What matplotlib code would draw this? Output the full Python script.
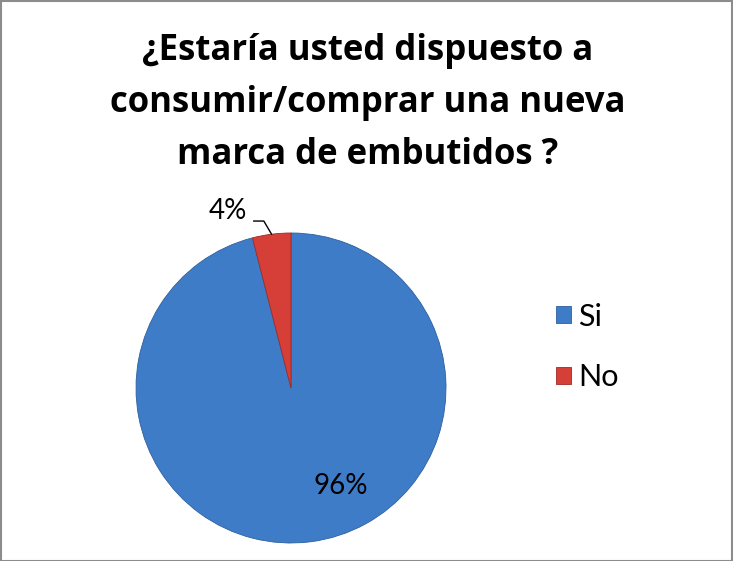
import numpy as np
import matplotlib.pyplot as plt
from matplotlib.patches import Rectangle

labels = ["Si", "No"]
values = [96, 4]
pct_text = ["96%", "4%"]
colors = ["#3f7cc8", "#d63f38"]
title = "¿Estaría usted dispuesto a\nconsumir/comprar una nueva\nmarca de embutidos ?"

plt.rcParams['font.family'] = ['Lato', 'DejaVu Sans']

fig = plt.figure(figsize=(7.33, 5.61), dpi=100)
fig.patch.set_facecolor("white")

# pie area: centre ~ (291, 388) px, radius ~155 px
W, H = 733, 561
cx, cy, r = 291, 388, 155
ax = fig.add_axes([(cx - r) / W, (H - cy - r) / H, 2 * r / W, 2 * r / H])
wedges, _ = ax.pie(values, colors=colors, startangle=90, counterclock=False,
                   wedgeprops=dict(edgecolor="#2d5f9e", linewidth=0.6))
wedges[1].set_edgecolor("#9e2a25")
ax.set_xlim(-1, 1)
ax.set_ylim(-1, 1)
ax.set_aspect("equal")
ax.axis("off")

# 96% label inside the big slice
ax.text(0.32, -0.63, pct_text[0], fontsize=20, ha="center", va="center", color="black")

# 4% label with leader line
w = wedges[1]
mid = np.deg2rad((w.theta1 + w.theta2) / 2)
ex, ey = np.cos(mid), np.sin(mid)
ax.plot([ex, ex - 0.05, ex - 0.115], [ey, ey + 0.085, ey + 0.085], color="black", lw=1, clip_on=False)
ax.text(ex - 0.16, ey + 0.15, pct_text[1], fontsize=20, ha="right", va="center", color="black")

fig.text(368 / W, 1 - 103 / H, title, fontsize=25, fontweight="bold",
         family=["Open Sans", "DejaVu Sans"],
         ha="center", va="center", linespacing=1.6)

fig.legend(wedges, labels, loc="center left", bbox_to_anchor=(528 / W, 1 - 347 / H),
           frameon=False, fontsize=22, handlelength=0.5, handleheight=0.5,
           handletextpad=0.25, labelspacing=1.08)

fig.patches.append(Rectangle((0.5 / W, 0.5 / H), 1 - 1.5 / W, 1 - 1.5 / H, transform=fig.transFigure,
                             fill=False, edgecolor="#8c8c8c", linewidth=1.5))

fig.savefig("out.png", dpi=100)
